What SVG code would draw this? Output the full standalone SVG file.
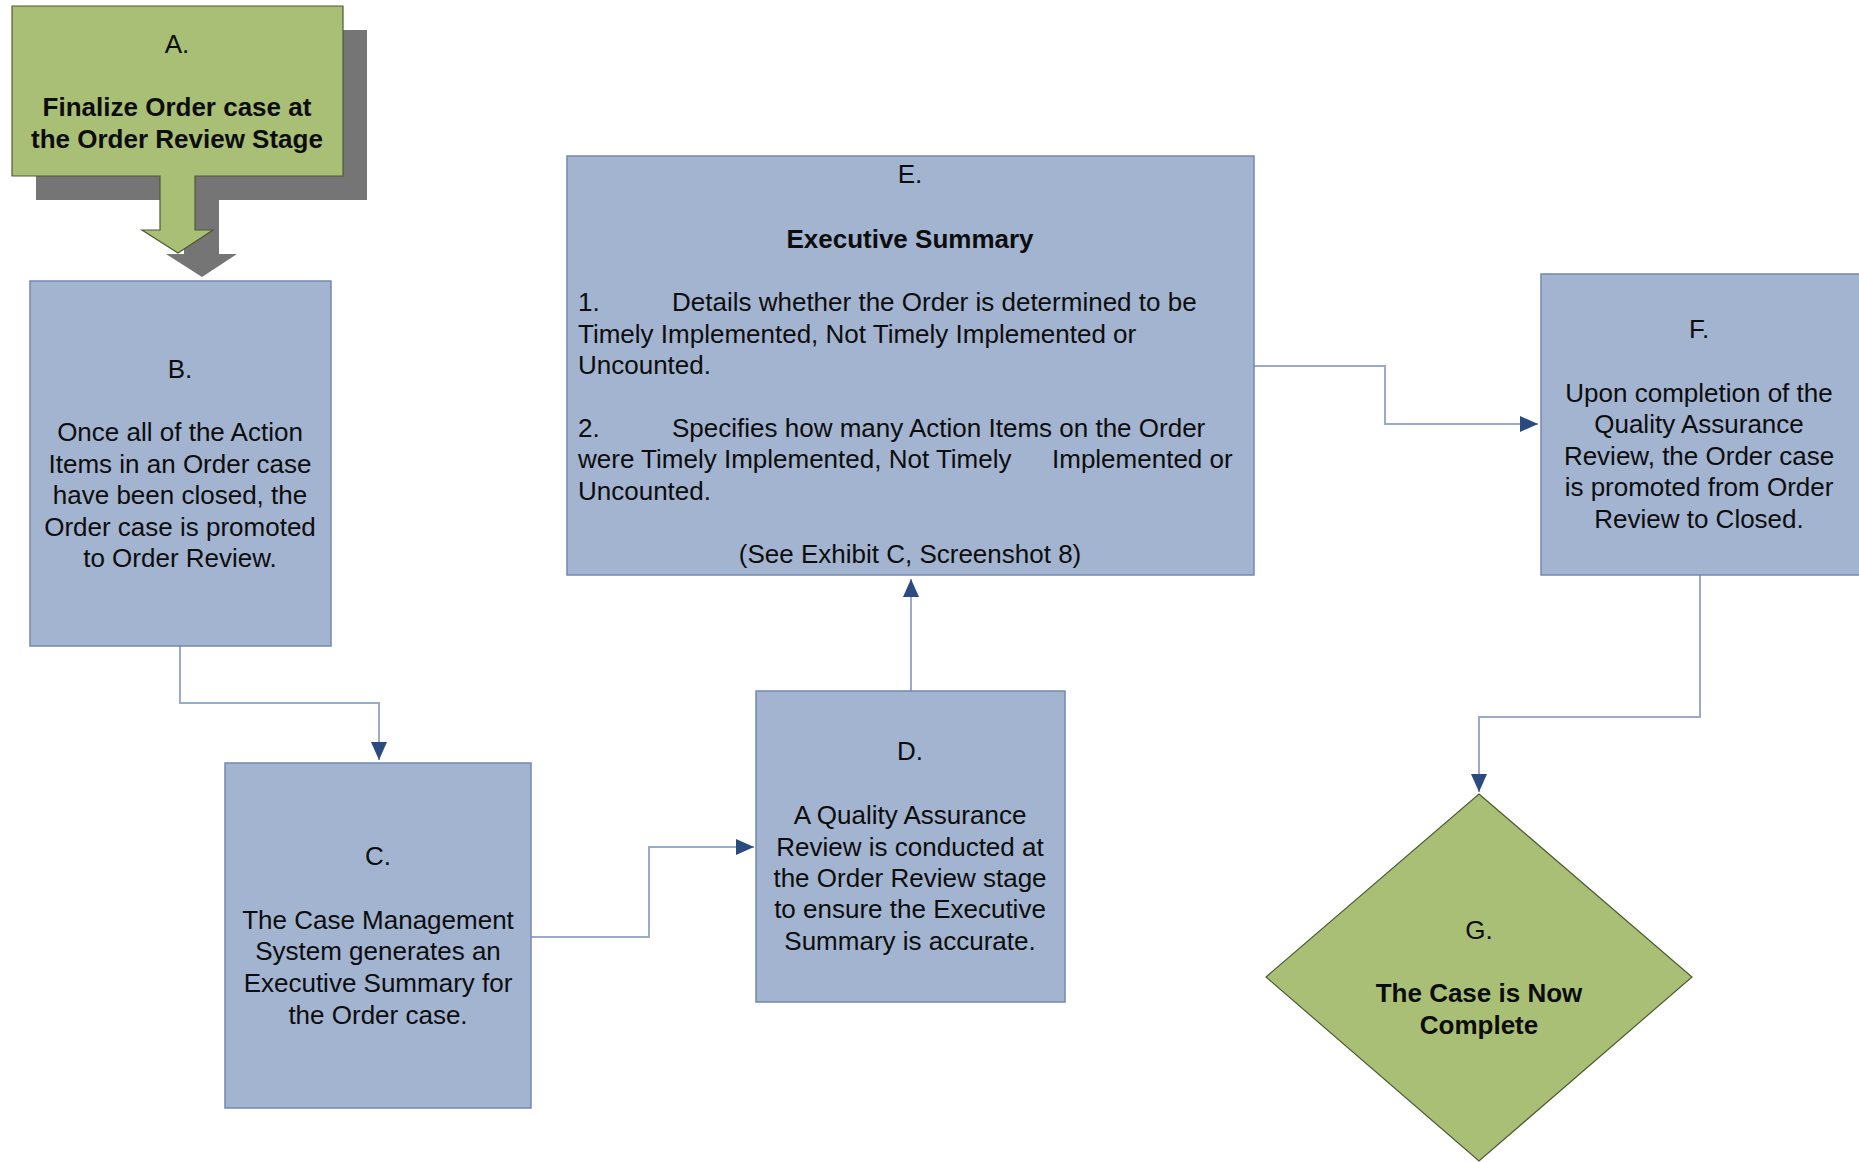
<svg xmlns="http://www.w3.org/2000/svg" width="1859" height="1162" viewBox="0 0 1859 1162">
  <style>
    .box { fill: #a2b4d0; stroke: #7388b0; stroke-width: 1.5; }
    .green { fill: #aabf76; stroke: #4d5b33; stroke-width: 1.2; }
    .shadow { fill: #757575; }
    .conn { fill: none; stroke: #9aaacb; stroke-width: 2; }
    text { font-family: "Liberation Sans", Arial, sans-serif; font-size: 26px; fill: #0d0d0d; }
    .c { text-anchor: middle; }
    .b { font-weight: bold; }
  </style>
  <defs>
    <marker id="arrow" viewBox="0 0 18 16" refX="18" refY="8" markerWidth="18" markerHeight="16" markerUnits="userSpaceOnUse" orient="auto">
      <path d="M0,0 L18,8 L0,16 Z" fill="#2a4a80"/>
    </marker>
  </defs>

  <rect width="1859" height="1162" fill="#ffffff"/>

  <!-- connectors -->
  <g id="connectors">
    <path class="conn" d="M180,646 V703 H379 V760" marker-end="url(#arrow)"/>
    <path class="conn" d="M531,937 H649 V847 H754" marker-end="url(#arrow)"/>
    <path class="conn" d="M911,691 V579" marker-end="url(#arrow)"/>
    <path class="conn" d="M1254,366 H1385 V424 H1538" marker-end="url(#arrow)"/>
    <path class="conn" d="M1700,575 V717 H1479 V792" marker-end="url(#arrow)"/>
  </g>

  <!-- A: start block with drop shadow and down arrow -->
  <g id="node-a">
    <path class="shadow" d="M36,30 H367 V200 H219 V254 H237 L202,277 L166,254 H184 V200 H36 Z"/>
    <path class="green" d="M12,6 H343 V176 H195 V230 H213 L178,253 L142,230 H160 V176 H12 Z"/>
    <text class="c" x="177" y="53">A.</text>
    <text class="c b" x="177" y="116">Finalize Order case at</text>
    <text class="c b" x="177" y="148">the Order Review Stage</text>
  </g>

  <g id="node-b">
    <rect class="box" x="30" y="281" width="301" height="365"/>
    <text class="c" x="180" y="378">B.</text>
    <text class="c" x="180" y="441">Once all of the Action</text>
    <text class="c" x="180" y="473">Items in an Order case</text>
    <text class="c" x="180" y="504">have been closed, the</text>
    <text class="c" x="180" y="536">Order case is promoted</text>
    <text class="c" x="180" y="567">to Order Review.</text>
  </g>

  <g id="node-c">
    <rect class="box" x="225" y="763" width="306" height="345"/>
    <text class="c" x="378" y="865">C.</text>
    <text class="c" x="378" y="929">The Case Management</text>
    <text class="c" x="378" y="960">System generates an</text>
    <text class="c" x="378" y="992">Executive Summary for</text>
    <text class="c" x="378" y="1024">the Order case.</text>
  </g>

  <g id="node-d">
    <rect class="box" x="756" y="691" width="309" height="311"/>
    <text class="c" x="910" y="760">D.</text>
    <text class="c" x="910" y="824">A Quality Assurance</text>
    <text class="c" x="910" y="856">Review is conducted at</text>
    <text class="c" x="910" y="887">the Order Review stage</text>
    <text class="c" x="910" y="918">to ensure the Executive</text>
    <text class="c" x="910" y="950">Summary is accurate.</text>
  </g>

  <g id="node-e">
    <rect class="box" x="567" y="156" width="687" height="419"/>
    <text class="c" x="910" y="183">E.</text>
    <text class="c b" x="910" y="248">Executive Summary</text>
    <text x="578" y="311">1.</text>
    <text x="672" y="311">Details whether the Order is determined to be</text>
    <text x="578" y="343">Timely Implemented, Not Timely Implemented or</text>
    <text x="578" y="374">Uncounted.</text>
    <text x="578" y="437">2.</text>
    <text x="672" y="437">Specifies how many Action Items on the Order</text>
    <text x="578" y="468">were Timely Implemented, Not Timely</text>
    <text x="1052" y="468">Implemented or</text>
    <text x="578" y="500">Uncounted.</text>
    <text class="c" x="910" y="563">(See Exhibit C, Screenshot 8)</text>
  </g>

  <g id="node-f">
    <rect class="box" x="1541" y="274" width="322" height="301"/>
    <text class="c" x="1699" y="338">F.</text>
    <text class="c" x="1699" y="402">Upon completion of the</text>
    <text class="c" x="1699" y="433">Quality Assurance</text>
    <text class="c" x="1699" y="465">Review, the Order case</text>
    <text class="c" x="1699" y="496">is promoted from Order</text>
    <text class="c" x="1699" y="528">Review to Closed.</text>
  </g>

  <g id="node-g">
    <polygon class="green" points="1479,794 1692,977 1479,1161 1266,977"/>
    <text class="c" x="1479" y="939">G.</text>
    <text class="c b" x="1479" y="1002">The Case is Now</text>
    <text class="c b" x="1479" y="1034">Complete</text>
  </g>
</svg>
